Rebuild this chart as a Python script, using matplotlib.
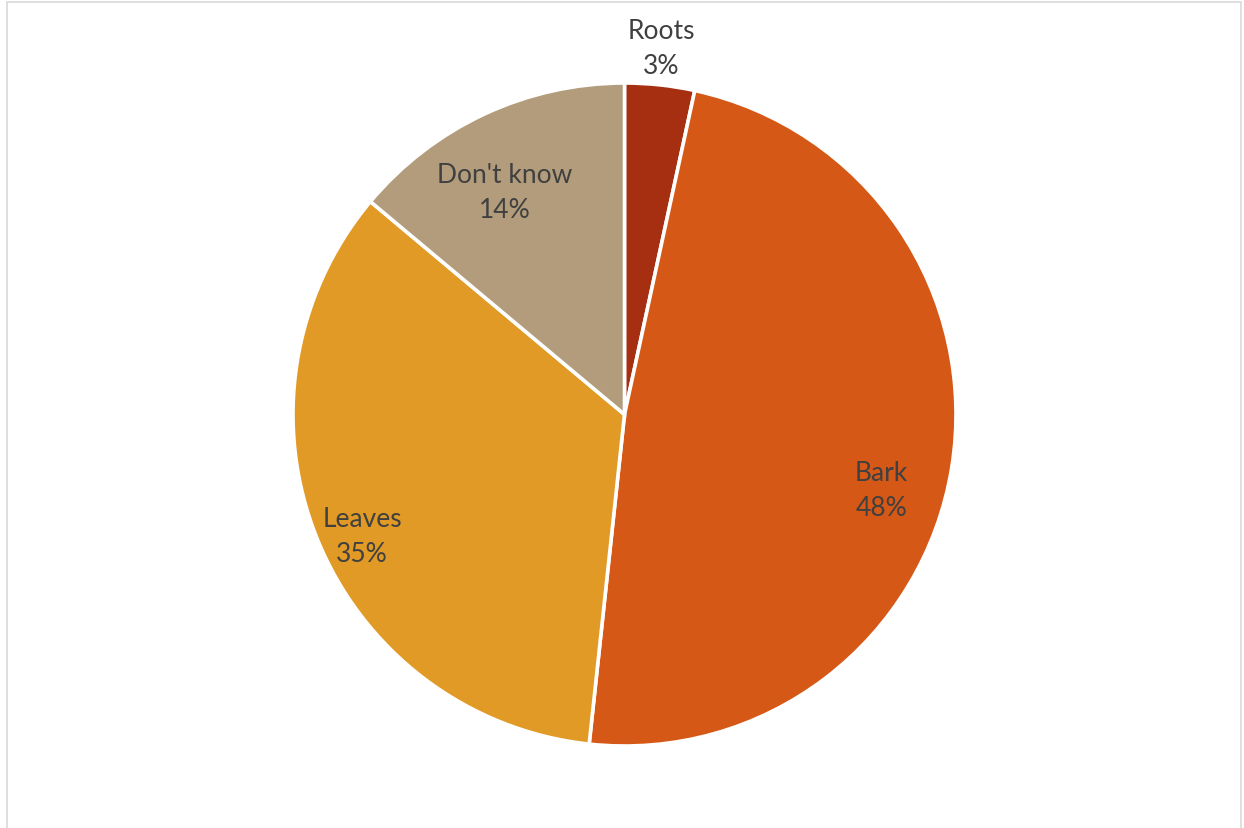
import matplotlib.pyplot as plt
import matplotlib.patches as mpatches

plt.rcParams.update({'font.family': ['Lato', 'DejaVu Sans']})

# data (share of answers, %)
categories = ['Roots', 'Bark', 'Leaves', "Don't know"]
shares = [3.4, 48.3, 34.4, 13.9]
pct_labels = ['3%', '48%', '35%', '14%']
colors = ['#A52F10', '#D55816', '#E19A26', '#B39C7C']

# label anchor points (data units, pie radius = 1)
label_pos = [(0.110, 1.106), (0.774, -0.228), (-0.792, -0.367), (-0.360, 0.671)]

fig = plt.figure(figsize=(12.44, 8.29), dpi=100)
ax = fig.add_axes([293 / 1244, 82 / 829, 663 / 1244, 663 / 829])

ax.pie(shares, colors=colors, startangle=90, counterclock=False,
       radius=1.0, wedgeprops={'edgecolor': 'white', 'linewidth': 2.6})

for cat, pct, (x, y) in zip(categories, pct_labels, label_pos):
    ax.text(x, y, cat + '\n' + pct, ha='center', va='center',
            fontsize=19, color='#404040', linespacing=1.5)

ax.set_xlim(-1, 1)
ax.set_ylim(-1, 1)
ax.set_aspect('equal')
ax.axis('off')

# light chart-area border
border = mpatches.Rectangle((7 / 1244, -0.01), 1234 / 1244, 1 - 3 / 829 + 0.01,
                            transform=fig.transFigure, fill=False,
                            edgecolor='#D9D9D9', linewidth=1.2)
fig.patches.append(border)

fig.savefig('out.png', dpi=100, facecolor='white')
